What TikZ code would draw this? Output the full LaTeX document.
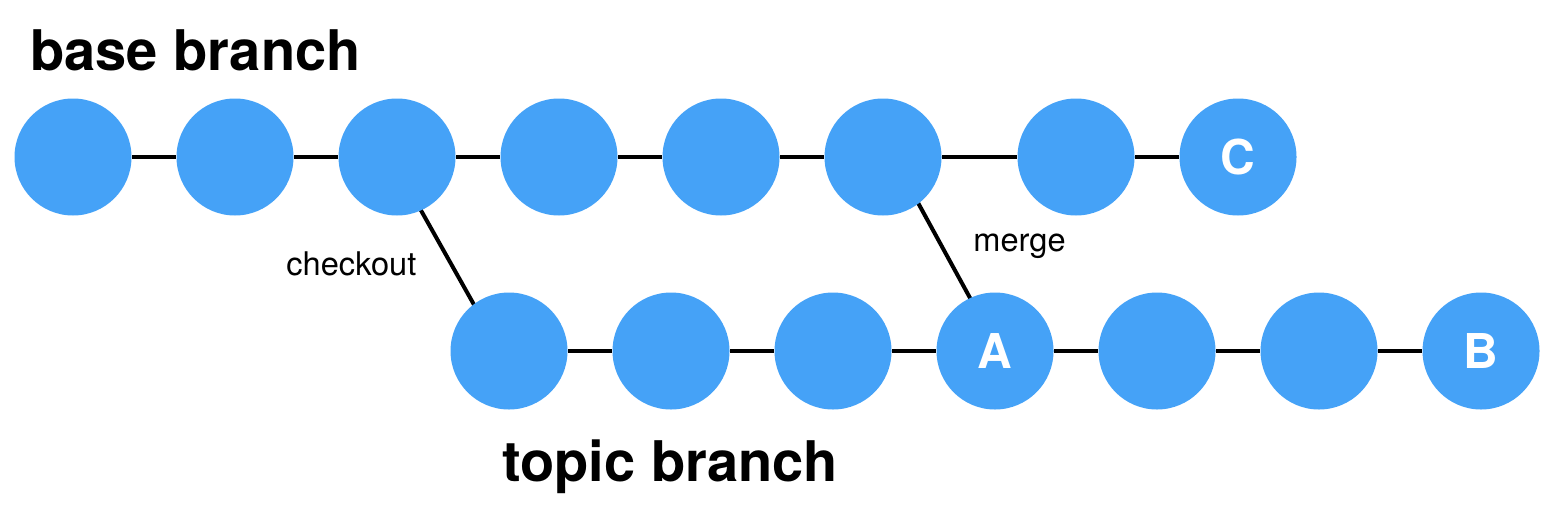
\documentclass[tikz,border=0pt]{standalone}
\usepackage{fontspec}
\setmainfont{TeX Gyre Heros}
\usetikzlibrary{backgrounds,calc}
\definecolor{commit}{HTML}{45A2F7}
\begin{document}
\begin{tikzpicture}[x=0.5pt,y=-0.5pt,
  commitnode/.style={circle,fill=commit,minimum size=58.5pt,inner sep=0pt,text=white,font=\fontsize{24}{24}\selectfont\bfseries},
  edge/.style={line width=2pt,black},
  title/.style={anchor=base west,inner sep=0pt,font=\fontsize{28}{28}\selectfont\bfseries},
  lbl/.style={anchor=base west,inner sep=0pt,font=\fontsize{16.3}{16}\selectfont}]
\useasboundingbox (0,0) rectangle (1566,530);
% base row
\node[commitnode] (b1) at (73,157) {};
\node[commitnode] (b2) at (235,157) {};
\node[commitnode] (b3) at (397,157) {};
\node[commitnode] (b4) at (559,157) {};
\node[commitnode] (b5) at (721,157) {};
\node[commitnode] (b6) at (883,157) {};
\node[commitnode] (b7) at (1076,157) {};
\node[commitnode] (b8) at (1238,157) {C};
% topic row
\node[commitnode] (t1) at (509,351) {};
\node[commitnode] (t2) at (671,351) {};
\node[commitnode] (t3) at (833,351) {};
\node[commitnode] (t4) at (995,351) {A};
\node[commitnode] (t5) at (1157,351) {};
\node[commitnode] (t6) at (1319,351) {};
\node[commitnode] (t7) at (1481,351) {B};
% edges
\begin{pgfonlayer}{background}
\draw[edge] (b1) -- (b2) -- (b3) -- (b4) -- (b5) -- (b6) -- (b7) -- (b8);
\draw[edge] (t1) -- (t2) -- (t3) -- (t4) -- (t5) -- (t6) -- (t7);
\draw[edge] ($(b3.center)+(-6,0)$) -- ($(t1.center)+(-9,0)$);
\draw[edge] ($(b6.center)+(10,0)$) -- ($(t4.center)+(4,0)$);
\end{pgfonlayer}
% labels
\node[title] (basetitle) at (30,70) {base branch};
\node[title] (topictitle) at (502,481) {topic branch};
\node[lbl] (checkoutlbl) at (286,275) {checkout};
\node[lbl] (mergelbl) at (973,251) {merge};
\end{tikzpicture}
\end{document}
